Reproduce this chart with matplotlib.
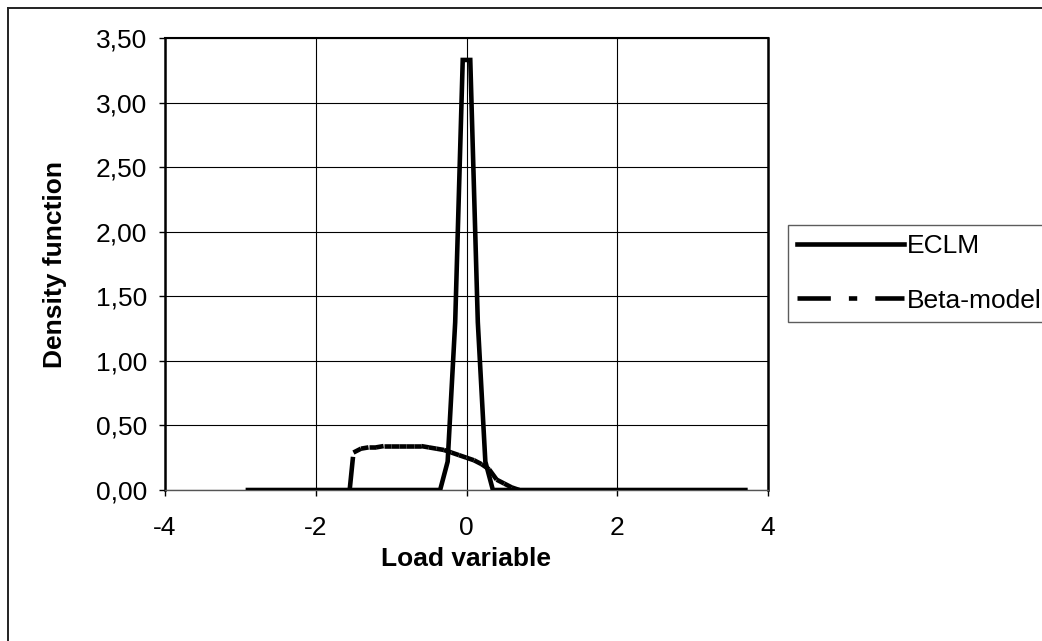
import matplotlib
matplotlib.use("Agg")
import matplotlib.pyplot as plt
from matplotlib.collections import LineCollection
from matplotlib.lines import Line2D
import numpy as np

plt.rcParams['font.family'] = ['Liberation Sans', 'DejaVu Sans']
plt.rcParams['lines.scale_dashes'] = False

# ECLM density
eclm_x = [-2.9, -0.35, -0.25, -0.15, -0.05, 0.05, 0.15, 0.25, 0.35, 3.7]
eclm_y = [0.0, 0.0, 0.22, 1.30, 3.33, 3.33, 1.30, 0.22, 0.0, 0.0]

# Beta-model density
beta_x = [-2.9, -1.55, -1.5, -1.4, -1.3, -1.2, -1.1, -1.0, -0.9, -0.8, -0.7,
          -0.6, -0.5, -0.4, -0.3, -0.2, -0.1, 0.0, 0.1, 0.2, 0.3, 0.4, 0.5,
          0.6, 0.7, 3.7]
beta_y = [0.0, 0.0, 0.29, 0.32, 0.33, 0.33, 0.34, 0.34, 0.34, 0.34, 0.34,
          0.34, 0.33, 0.32, 0.31, 0.29, 0.27, 0.25, 0.23, 0.20, 0.16, 0.08,
          0.05, 0.02, 0.0, 0.0]

x_ticks = [-4, -2, 0, 2, 4]
y_ticks = [0.0, 0.5, 1.0, 1.5, 2.0, 2.5, 3.0, 3.5]

FS = 19
W, H = 1042, 641
fig = plt.figure(figsize=(W / 100, H / 100), dpi=100)
ax = fig.add_axes([165 / W, 1 - 490 / H, (768 - 165) / W, (490 - 38) / H])

beta_style = (0, (24, 13, 6, 13))
lw = 3.3

# Beta-model drawn segment by segment so the dash pattern restarts each step
pts = np.column_stack([beta_x, beta_y])
segs = np.stack([pts[:-1], pts[1:]], axis=1)
lc = LineCollection(segs, colors='black', linewidths=lw, linestyles=[beta_style],
                    capstyle='butt', zorder=3)
ax.add_collection(lc)

ax.plot(eclm_x, eclm_y, color='black', lw=lw, solid_joinstyle='miter', zorder=4)

ax.set_xlim(-4, 4)
ax.set_ylim(0, 3.5)
ax.set_xticks(x_ticks)
ax.set_xticklabels([str(v) for v in x_ticks])
ax.set_yticks(y_ticks)
ax.set_yticklabels([f"{v:.2f}".replace('.', ',') for v in y_ticks])
ax.tick_params(axis='both', direction='out', length=4, width=1, colors='black',
               labelsize=FS)
ax.tick_params(axis='x', pad=15)
ax.tick_params(axis='y', pad=9)

ax.grid(True, color='black', lw=0.8)
ax.set_axisbelow(True)
ax.spines['left'].set_linewidth(1.8)
ax.spines['top'].set_linewidth(1.5)
ax.spines['right'].set_linewidth(1.8)
ax.spines['bottom'].set_linewidth(1.0)
ax.spines['bottom'].set_color('#555555')

ax.set_xlabel('Load variable', fontsize=FS, fontweight='bold', va='center')
ax.set_ylabel('Density function', fontsize=FS, fontweight='bold', va='center')
ax.xaxis.set_label_coords((466 - 165) / 603, (490 - 559) / 452)
ax.yaxis.set_label_coords((55 - 165) / 603, 0.5)

handles = [Line2D([], [], color='black', lw=lw),
           Line2D([], [], color='black', lw=lw, linestyle=beta_style,
                  dash_capstyle='butt')]
leg = fig.legend(handles, ['ECLM', 'Beta-model'], loc='upper left',
                 bbox_to_anchor=(788 / W, 1 - 225 / H), fontsize=FS,
                 handlelength=4.05, handletextpad=0.1, labelspacing=1.15,
                 borderpad=0.35, borderaxespad=0, frameon=True, fancybox=False)
leg.get_frame().set_edgecolor('#333333')
leg.get_frame().set_linewidth(1.0)

# Outer chart border (left and top edges)
fig.add_artist(Line2D([8 / W, 8 / W], [0, 1 - 8 / H], transform=fig.transFigure,
                      color='#222222', lw=1.4))
fig.add_artist(Line2D([8 / W, 1], [1 - 8 / H, 1 - 8 / H], transform=fig.transFigure,
                      color='#222222', lw=1.4))

fig.savefig('out.png', dpi=100)
